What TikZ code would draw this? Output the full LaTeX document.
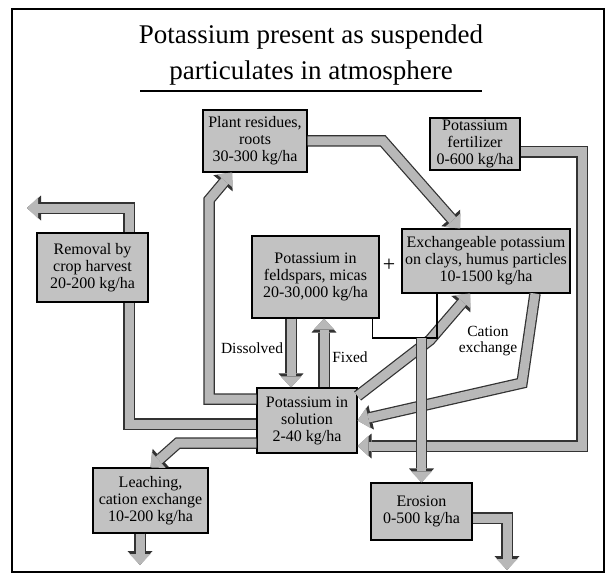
\documentclass[tikz,border=0pt]{standalone}
\usepackage{fontspec}
\setmainfont{Liberation Serif}
\usetikzlibrary{arrows.meta,positioning}
\definecolor{boxgray}{gray}{0.76}
\definecolor{bandgray}{gray}{0.72}

\begin{document}
\begin{tikzpicture}[
    x=1pt, y=-1pt,
    % --- STYLES ---
    pool/.style={
        rectangle, draw=black, fill=boxgray,
        line width=1.1pt, inner sep=1pt,
        align=center, font=\fontsize{16}{17}\selectfont
    },
    flow/.style={
        draw=bandgray, line width=9pt, line join=miter,
        preaction={draw=black!80, line width=11.5pt, line join=miter}
    },
    flowto/.style={
        draw=bandgray, line width=9pt, line join=miter,
        -{Triangle[width=21pt,length=11pt,line width=0pt]},
        preaction={draw=black!80, line width=11.5pt, line join=miter,
            -{Triangle[width=25pt,length=14pt,line width=0pt]}}
    },
    lbl/.style={font=\fontsize{15.5}{16}\selectfont, align=center},
    bracket/.style={draw=black, line width=1.1pt}
]
\useasboundingbox (0,0) rectangle (609,577);

% ===== 1. FRAME & TITLE =====
\draw[line width=2.5pt] (12,9) rectangle (604,572);
\node[font=\fontsize{27}{36}\selectfont, align=center] (title) at (311,55)
    {Potassium present as suspended\\particulates in atmosphere};
\draw[line width=1.5pt] (140,91) -- (482,91);

% ===== 2. POOLS =====
\node[pool, minimum width=104pt, minimum height=62pt] (plant) at (255,141) {Plant residues,\\roots\\30-300 kg/ha};
\node[pool, minimum width=90pt, minimum height=52pt] (fert) at (475,144) {Potassium\\fertilizer\\0-600 kg/ha};
\node[pool, minimum width=111pt, minimum height=69pt] (rem) at (92.5,267.5) {Removal by\\crop harvest\\20-200 kg/ha};
\node[pool, minimum width=127pt, minimum height=82pt] (feld) at (315.5,277) {Potassium in\\feldspars, micas\\20-30,000 kg/ha};
\node[pool, minimum width=168pt, minimum height=64pt] (exch) at (486,261) {Exchangeable potassium\\on clays, humus particles\\10-1500 kg/ha};
\node[pool, minimum width=100pt, minimum height=65pt] (sol) at (307,420.5) {Potassium in\\solution\\2-40 kg/ha};
\node[pool, minimum width=115pt, minimum height=65pt] (leach) at (150.5,500.5) {Leaching,\\cation exchange\\10-200 kg/ha};
\node[pool, minimum width=101pt, minimum height=57pt] (eros) at (421.5,511.5) {Erosion\\0-500 kg/ha};

\node[font=\fontsize{22}{22}\selectfont] (plus) at (389,265) {+};

% free ends and bends
\coordinate (harvest) at (27,208);
\coordinate (leachout) at (140,565);
\coordinate (erosout) at (507,570);
\coordinate (fertbend) at (582,446);
\coordinate (merge) at (eros.north |- 0,338);
\coordinate (dis) at ([xshift=-24.5pt]feld.south);
\coordinate (fix) at ([xshift=8.5pt]feld.south);

% ===== 3. FLOWS =====
% uptake to plants and harvest
\draw[flowto] ([yshift=21.5pt]sol.west) -| (209,200) -- ([xshift=-23pt]plant.south);
\draw[flow] ([yshift=-3.5pt]sol.west) -| ([xshift=36.5pt]rem.south);
\draw[flowto] ([xshift=36.5pt]rem.north) |- (harvest);

% residues back to exchangeable pool
\draw[flowto] (plant.east) -- (383,141) -- ([xshift=-26pt]exch.north);

% fertilizer into solution
\draw[flowto] ([yshift=-8pt]fert.east) -| (fertbend) -- ([yshift=-25.5pt]sol.east);

% leaching
\draw[flowto] ([yshift=-22.5pt]sol.west) -- (178,443) -- (leach.north);
\draw[flowto] ([xshift=-10.5pt]leach.south) -- (leachout);

% minerals <-> solution
\draw[flowto] (dis) -- (dis |- sol.north);
\draw[flowto] (fix |- sol.north) -- (fix);
\node[lbl] (dislbl) at (252,348) {Dissolved};
\node[lbl] (fixlbl) at (350,357) {Fixed};

% cation exchange, both ways
\draw[flowto] ([yshift=24.5pt]sol.east) -- (430,340) -- ([xshift=-16pt]exch.south);
\draw[flowto] ([xshift=49pt]exch.south) -- (522,383) -- (sol.east);
\node[lbl] (catlbl) at (488,341) {Cation\\exchange};

% erosion of both solid pools
\draw[bracket] ([xshift=-7pt]feld.south east) |- (merge) -| ([xshift=-49pt]exch.south);
\draw[flowto] (merge) -- (eros.north);
\draw[flowto] ([yshift=-6.5pt]eros.east) -| (erosout);

\end{tikzpicture}
\end{document}
